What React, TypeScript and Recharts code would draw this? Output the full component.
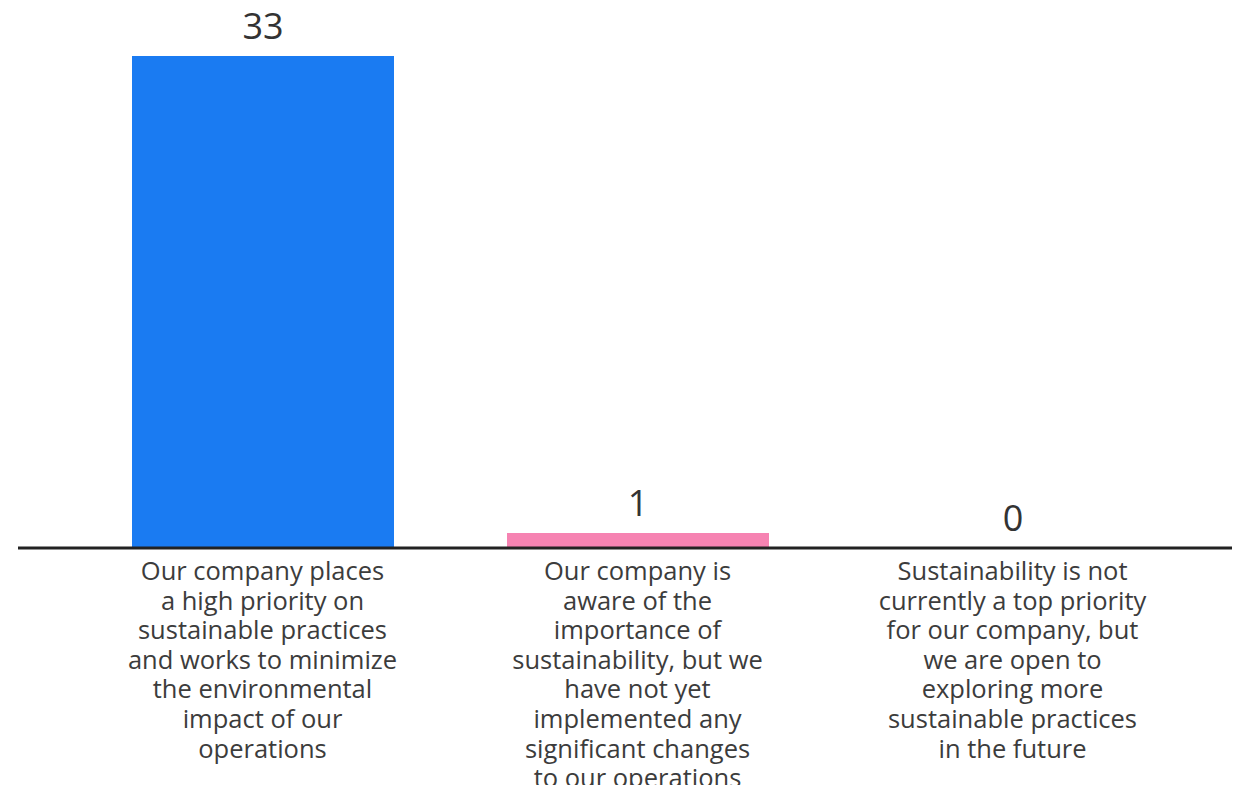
import React from 'react';
import { BarChart, Bar, XAxis, YAxis, LabelList, Cell } from 'recharts';

const answers = ['high', 'aware', 'open'];
const counts = [33, 1, 0];
const barColors = ['#1a7bf2', '#f683b2', '#9aa0a6'];
const tickLines = [
  [
    'Our company places',
    'a high priority on',
    'sustainable practices',
    'and works to minimize',
    'the environmental',
    'impact of our',
    'operations',
  ],
  [
    'Our company is',
    'aware of the',
    'importance of',
    'sustainability, but we',
    'have not yet',
    'implemented any',
    'significant changes',
    'to our operations',
  ],
  [
    'Sustainability is not',
    'currently a top priority',
    'for our company, but',
    'we are open to',
    'exploring more',
    'sustainable practices',
    'in the future',
  ],
];

const data = answers.map((key, i) => ({ key, count: counts[i], lines: tickLines[i] }));

const FONT = '"Open Sans", Lato, sans-serif';

const MultiLineTick = (props: any) => {
  const { x, y, payload } = props;
  const idx = answers.indexOf(payload.value);
  const lines = idx >= 0 ? tickLines[idx] : [];
  return (
    <text x={x} y={y} textAnchor="middle" fill="#3c3c3c" fontSize={25.5} fontFamily={FONT}>
      {lines.map((line, i) => (
        <tspan key={i} x={x} dy={i === 0 ? 24 : 29.6}>
          {line}
        </tspan>
      ))}
    </text>
  );
};

export default function App() {
  // outer div is shorter than the chart so the body margin doesn't add a scrollbar
  return (
    <div style={{ background: '#fff', height: 777 }}>
      <BarChart
        width={1232}
        height={785}
        data={data}
        margin={{ top: 48, right: 0, bottom: 0, left: 10 }}
        barSize={262}
      >
        <XAxis
          dataKey="key"
          axisLine={{ stroke: '#222', strokeWidth: 3 }}
          tickLine={false}
          interval={0}
          height={245}
          padding={{ left: 57, right: 40 }}
          tick={<MultiLineTick />}
        />
        <YAxis hide domain={[0, 33]} />
        <Bar dataKey="count" isAnimationActive={false} minPointSize={0.5}>
          {data.map((d, i) => (
            <Cell key={d.key} fill={d.count === 0 ? 'transparent' : barColors[i]} />
          ))}
          <LabelList
            dataKey="count"
            position="top"
            offset={17}
            fill="#333"
            fontSize={36}
            fontFamily={FONT}
          />
        </Bar>
      </BarChart>
    </div>
  );
}
